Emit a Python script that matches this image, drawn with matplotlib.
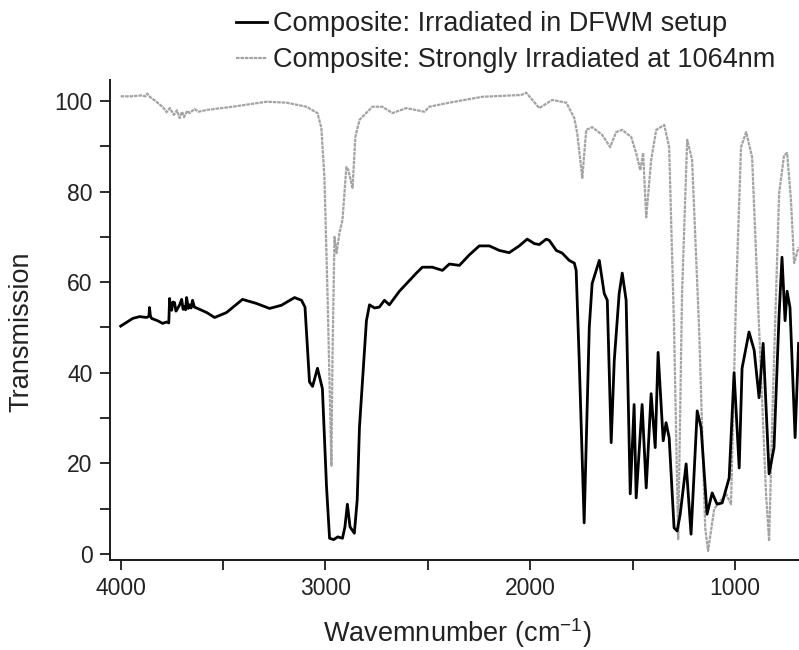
import matplotlib
matplotlib.use("Agg")
import matplotlib.pyplot as plt
from matplotlib.ticker import MultipleLocator

plt.rcParams['font.family'] = ['Liberation Sans', 'DejaVu Sans']

# Composite irradiated in the DFWM setup (wavenumber in cm^-1, transmission in %)
dfwm_wn = [4000, 3941, 3907, 3873, 3862, 3859, 3855, 3849, 3820, 3795, 3776, 3765, 3761,
           3756, 3751, 3745, 3737, 3730, 3722, 3712, 3702, 3695, 3688, 3683, 3678,
           3670, 3663, 3656, 3649, 3640, 3624, 3580, 3541, 3483, 3405, 3337, 3273,
           3215, 3151, 3117, 3100, 3078, 3063, 3039, 3015, 2995, 2980, 2960, 2940,
           2917, 2905, 2893, 2880, 2859, 2845, 2834, 2800, 2785, 2760, 2737, 2712,
           2688, 2639, 2556, 2527, 2478, 2429, 2395, 2346, 2298, 2249, 2200, 2151,
           2103, 2054, 2015, 1980, 1956, 1922, 1907, 1873, 1844, 1810, 1785, 1776,
           1761, 1737, 1712, 1698, 1663, 1639, 1624, 1605, 1590, 1566, 1551, 1532,
           1512, 1493, 1483, 1454, 1434, 1410, 1390, 1376, 1351, 1337, 1322, 1298,
           1283, 1268, 1239, 1215, 1185, 1166, 1137, 1112, 1088, 1063, 1029, 1005,
           980, 966, 932, 907, 883, 863, 834, 810, 785, 771, 756, 746, 732, 707, 690]
dfwm_t = [50.3, 52.0, 52.4, 52.2, 52.5, 54.4, 52.6, 52.0, 51.5, 50.9, 51.2, 51.0, 56.4,
          54.0, 53.8, 55.6, 55.5, 53.6, 54.2, 55.0, 56.2, 54.0, 54.6, 53.9, 56.6,
          54.2, 55.0, 54.3, 56.0, 54.5, 54.2, 53.3, 52.2, 53.3, 56.2, 55.3, 54.2,
          54.9, 56.6, 56.0, 54.5, 38.0, 37.0, 41.0, 36.5, 15.0, 3.5, 3.2, 3.8,
          3.5, 6.0, 11.0, 6.0, 4.6, 12.0, 28.0, 51.5, 55.0, 54.3, 54.5, 56.0,
          55.0, 58.0, 62.0, 63.3, 63.3, 62.6, 64.0, 63.7, 66.0, 68.0, 68.0, 67.0,
          66.5, 68.0, 69.5, 68.5, 68.3, 69.5, 69.2, 67.0, 66.4, 64.8, 64.2, 62.6,
          42.7, 6.9, 50.0, 59.7, 64.8, 57.5, 56.0, 24.6, 42.7, 57.5, 62.0, 56.0,
          13.3, 33.0, 12.4, 33.0, 14.6, 35.4, 23.5, 44.5, 25.0, 29.0, 25.7, 5.8,
          5.1, 8.8, 19.9, 4.4, 31.6, 27.9, 8.8, 13.5, 11.0, 11.3, 16.8, 40.0,
          19.0, 41.0, 49.0, 45.0, 34.5, 46.5, 17.7, 23.5, 53.0, 65.5, 51.5, 58.0,
          54.4, 25.7, 46.5]

# Composite strongly irradiated at 1064 nm
strong_wn = [4000, 3950, 3900, 3880, 3870, 3859, 3850, 3830, 3810, 3790, 3776, 3760,
             3740, 3725, 3712, 3700, 3690, 3675, 3663, 3640, 3620, 3580, 3454, 3288,
             3190, 3093, 3039, 3020, 3005, 2990, 2971, 2966, 2956, 2946, 2932, 2917,
             2898, 2888, 2868, 2854, 2834, 2810, 2771, 2722, 2673, 2605, 2517, 2493,
             2395, 2234, 2044, 2020, 1956, 1893, 1824, 1785, 1771, 1746, 1727, 1698,
             1649, 1610, 1581, 1551, 1507, 1483, 1463, 1449, 1434, 1410, 1385, 1346,
             1322, 1298, 1278, 1259, 1234, 1210, 1176, 1146, 1132, 1102, 1044, 1020,
             995, 971, 946, 917, 883, 849, 834, 815, 785, 761, 746, 727, 712, 690]
strong_t = [101.0, 101.0, 101.2, 101.0, 101.6, 101.0, 100.6, 100.0, 99.2, 98.4, 97.5, 98.4,
            96.9, 97.9, 96.2, 97.6, 96.4, 97.8, 97.3, 98.2, 97.6, 98.0, 98.7, 99.8,
            99.6, 98.7, 97.3, 94.0, 83.0, 57.5, 19.5, 42.7, 70.0, 66.4, 70.8, 73.7,
            85.4, 84.7, 80.8, 92.0, 95.8, 96.9, 98.7, 98.7, 97.3, 98.4, 97.6, 98.7,
            99.6, 100.9, 101.3, 101.8, 98.4, 100.2, 99.6, 96.2, 92.9, 83.0, 93.6, 94.2,
            92.5, 89.8, 93.1, 93.6, 92.0, 88.5, 84.7, 88.5, 74.3, 86.9, 93.6, 94.7,
            89.8, 50.0, 3.3, 57.5, 91.4, 87.0, 50.0, 5.8, 0.7, 10.0, 13.3, 11.0,
            57.5, 89.8, 93.1, 87.6, 50.0, 13.3, 2.9, 35.4, 79.6, 88.0, 88.5, 78.0, 64.2, 67.7]

x_ticks = [4000, 3000, 2000, 1000]
y_ticks = [0, 20, 40, 60, 80, 100]

W, H = 799, 650
ax_left, ax_right, ax_top, ax_bottom = 110, 799, 80, 560

fig = plt.figure(figsize=(W / 100, H / 100), dpi=100)
ax = fig.add_axes([ax_left / W, 1 - ax_bottom / H, (ax_right - ax_left) / W,
                   (ax_bottom - ax_top) / H])

ax.plot(dfwm_wn, dfwm_t, color='black', lw=2.0, solid_joinstyle='round',
        label='Composite: Irradiated in DFWM setup', zorder=3)
ax.plot(strong_wn, strong_t, color='#a3a3a3', lw=1.6, linestyle=(0, (1.6, 0.4)),
        label='Composite: Strongly Irradiated at 1064nm', zorder=2)

ax.set_xlim(4052, 688)
ax.set_ylim(-1.3, 104.6)
ax.set_xticks(x_ticks)
ax.set_yticks(y_ticks)
ax.xaxis.set_minor_locator(MultipleLocator(500))
ax.yaxis.set_minor_locator(MultipleLocator(10))
ax.tick_params(which='both', direction='out', length=7.5, width=1.3, labelsize=16.5,
               pad=5, colors='#1a1a1a', labelcolor='#222222')

for side in ('top', 'right'):
    ax.spines[side].set_visible(False)
for side in ('left', 'bottom'):
    ax.spines[side].set_linewidth(1.4)
    ax.spines[side].set_color('#1a1a1a')

ax.set_xlabel('Wavemnumber (cm$^{\\mathregular{-1}}$)', fontsize=19.5, color='#222222',
              va='center')
ax.xaxis.set_label_coords(0.504, -(633 - ax_bottom) / (ax_bottom - ax_top))
ax.set_ylabel('Transmission', fontsize=19.5, color='#222222', va='center')
ax.yaxis.set_label_coords(-(ax_left - 21) / (ax_right - ax_left),
                          (ax_bottom - 332) / (ax_bottom - ax_top))

fig.legend(loc='upper left', bbox_to_anchor=(236 / W, 1 - 11 / H), frameon=False,
           fontsize=19.5, handlelength=1.14, handletextpad=0.22, labelspacing=0.37,
           borderpad=0, borderaxespad=0, labelcolor='#222222')

fig.savefig('out.png', dpi=100)
